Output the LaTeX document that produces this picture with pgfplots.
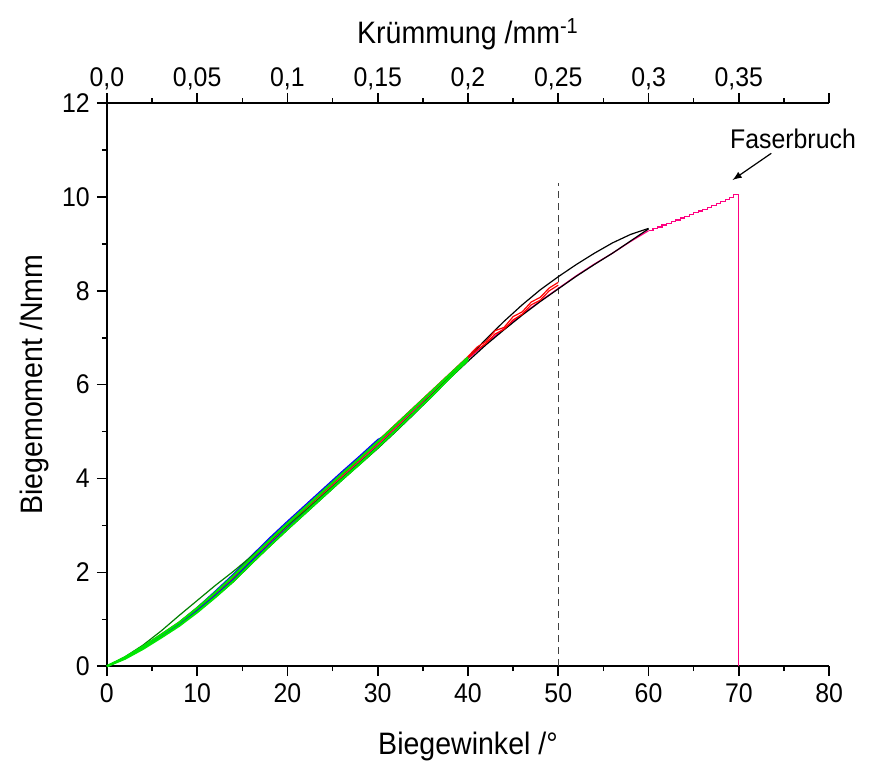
\documentclass[border=0pt]{standalone}
\usepackage{fontspec}
\setmainfont[FakeStretch=0.92]{Liberation Sans}
\usepackage{pgfplots}
\pgfplotsset{compat=1.18}

\definecolor{pinkline}{RGB}{255,0,128}
\definecolor{brightgreen}{RGB}{0,230,0}
\definecolor{darkgreen}{RGB}{0,128,0}

\pgfplotsset{
  common/.style={
    width=361pt, height=281.5pt, scale only axis,
    xmin=0, xmax=80, ymin=0, ymax=12,
    tick align=outside,
    axis line style={-, line width=1.2pt},
    major tick length=5pt, minor tick length=2.5pt,
    every tick/.style={line width=0.8pt, black},
    tick label style={font=\fontsize{13.5}{15}\selectfont},
    label style={font=\fontsize{15.5}{18}\selectfont},
    /pgf/number format/assume math mode=true,
  }
}

\begin{document}
\begin{tikzpicture}
% top axis: curvature
\begin{axis}[common,
  axis x line*=top, axis y line=none,
  xtick={0,10,20,30,40,50,60,70,80},
  xticklabels={{0,0},{0,05},{0,1},{0,15},{0,2},{0,25},{0,3},{0,35},{}},
  minor x tick num=1,
  xlabel={Krümmung /mm\textsuperscript{-1}},
  xticklabel style={yshift=-2pt}, xlabel style={yshift=2pt},
]
\end{axis}

\begin{axis}[common,
  axis x line*=bottom, axis y line*=left,
  xtick={0,10,...,80}, ytick={0,2,...,12},
  minor x tick num=1, minor y tick num=1,
  xlabel={Biegewinkel /°}, ylabel={Biegemoment /Nmm},
  xlabel style={yshift=-8pt}, ylabel style={yshift=0pt},
  clip=false,
  every axis plot/.append style={line width=0.6pt},
]
% fix the picture's frame to the reference proportions
\path (rel axis cs:-0.148,-0.176) rectangle (rel axis cs:1.058,1.183);

% dashed guide line
\addplot[densely dashed, dash pattern=on 3.5pt off 2.5pt, black!75, line width=0.7pt] coordinates {(50,0) (50,10.3)};

% magenta: to fibre fracture
\addplot[pinkline] coordinates {
(0,0) (2,0.18) (4,0.40) (6,0.65) (8,0.90) (10,1.20) (12,1.52) (14,1.86) (16,2.25) (18,2.62)
(20,2.98) (22,3.33) (24,3.68) (26,4.03) (28,4.37) (30,4.72) (32,5.08) (34,5.45) (36,5.82) (38,6.20)
(40,6.55) (42,6.88) (44,7.20) (46,7.50) (48,7.78) (50,8.05) (52,8.32) (54,8.57) (56,8.80) (58,9.05)
(60,9.28)};
\addplot[pinkline, const plot] coordinates {
(60,9.28) (60.5,9.32) (61,9.36) (61.5,9.40) (62,9.44) (62.5,9.47) (63,9.51) (63.5,9.55) (64,9.59)
(64.5,9.63) (65,9.66) (65.5,9.70) (66,9.74) (66.5,9.78) (67,9.82) (67.5,9.86) (68,9.90) (68.5,9.94)
(69,9.98) (69.4,10.05) (70,10.05) (70,0)};

% black curves
\addplot[black] coordinates {
(0,0) (2,0.16) (4,0.38) (6,0.62) (8,0.87) (10,1.16) (12,1.47) (14,1.80) (16,2.18) (18,2.55)
(20,2.91) (22,3.26) (24,3.61) (26,3.96) (28,4.30) (30,4.64) (32,5.00) (34,5.37) (36,5.75) (38,6.14)
(40,6.50) (42,6.85) (44,7.17) (46,7.48) (48,7.77) (50,8.04) (52,8.31) (54,8.56) (56,8.80) (58,9.06)
(60,9.32)};
\addplot[black] coordinates {
(0,0) (2,0.17) (4,0.39) (6,0.63) (8,0.88) (10,1.17) (12,1.49) (14,1.83) (16,2.21) (18,2.58)
(20,2.94) (22,3.29) (24,3.64) (26,3.99) (28,4.33) (30,4.68) (32,5.04) (34,5.41) (36,5.79) (38,6.17)
(40,6.57) (42,6.97) (44,7.35) (46,7.70) (48,8.02) (50,8.30) (52,8.56) (54,8.80) (56,9.02) (58,9.20)
(60,9.33)};

% red curves
\addplot[red] coordinates {
(0,0) (2,0.19) (4,0.42) (6,0.68) (8,0.94) (10,1.25) (12,1.58) (14,1.93) (16,2.32) (18,2.70)
(20,3.06) (22,3.41) (24,3.76) (26,4.11) (28,4.45) (30,4.80) (32,5.16) (34,5.52) (36,5.88) (38,6.24)
(40,6.60) (41,6.80) (42,6.92) (43,7.15) (44,7.22) (45,7.45) (46,7.55) (47,7.76) (48,7.86) (49,8.06)
(50,8.18)};
\addplot[red] coordinates {
(0,0) (2,0.18) (4,0.41) (6,0.66) (8,0.92) (10,1.22) (12,1.55) (14,1.89) (16,2.28) (18,2.65)
(20,3.01) (22,3.36) (24,3.71) (26,4.06) (28,4.40) (30,4.75) (32,5.11) (34,5.48) (36,5.85) (38,6.22)
(40,6.57) (41,6.74) (42,6.88) (43,7.08) (44,7.18) (45,7.38) (46,7.50) (47,7.70) (48,7.80) (49,8.00)
(50,8.12)};

% blue curves
\addplot[blue] coordinates {
(0,0) (2,0.18) (4,0.41) (6,0.67) (8,0.93) (10,1.25) (12,1.60) (14,1.96) (16,2.35) (18,2.73)
(20,3.09) (22,3.44) (24,3.79) (26,4.14) (28,4.48) (30,4.83) (30.5,4.88)};
\addplot[blue] coordinates {
(0,0) (2,0.17) (4,0.39) (6,0.64) (8,0.89) (10,1.19) (12,1.51) (14,1.85) (16,2.24) (18,2.60)
(20,2.95) (22,3.30) (24,3.64) (26,3.98) (28,4.33) (30,4.68)};

% dark green
\addplot[darkgreen] coordinates {
(0,0) (2,0.20) (4,0.45) (6,0.75) (8,1.08) (10,1.40) (12,1.72) (14,2.02) (16,2.34) (18,2.66)
(20,3.00) (22,3.32) (24,3.66) (26,4.00) (28,4.34) (30,4.68) (32,5.04) (34,5.41) (36,5.78) (38,6.16)
(40,6.54)};

% bright green
\addplot[brightgreen, line width=1.1pt] coordinates {
(0,0) (2,0.16) (4,0.37) (6,0.61) (8,0.86) (10,1.15) (12,1.47) (14,1.81) (16,2.19) (18,2.56)
(20,2.92) (22,3.27) (24,3.62) (26,3.97) (28,4.31) (30,4.66) (32,5.02) (34,5.39) (36,5.76) (38,6.15)
(40,6.53)};
\addplot[brightgreen, line width=1.1pt] coordinates {
(0,0) (2,0.19) (4,0.42) (6,0.67) (8,0.93) (10,1.24) (12,1.57) (14,1.92) (16,2.30) (18,2.68)
(20,3.04) (22,3.39) (24,3.74) (26,4.09) (28,4.43) (30,4.78) (32,5.14) (34,5.50) (36,5.86) (38,6.22)
(40,6.58)};

% annotation
\node[font=\fontsize{13.5}{15}\selectfont] at (axis cs:76,11.23) {Faserbruch};
\draw[-latex, line width=0.6pt] (axis cs:73.6,10.93) -- (axis cs:69.3,10.36);
\end{axis}
\end{tikzpicture}
\end{document}
